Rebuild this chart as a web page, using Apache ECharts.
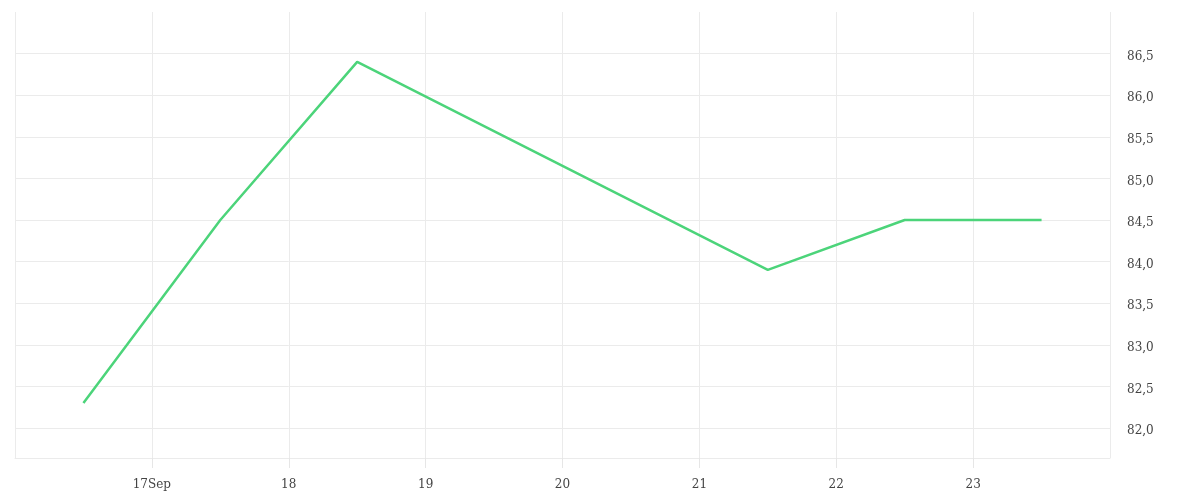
<!DOCTYPE html>
<html><head><meta charset="utf-8">
<script src="https://cdn.jsdelivr.net/npm/echarts@6/dist/echarts.min.js"></script>
<style>html,body{margin:0;padding:0;background:#fff}#c{width:1200px;height:500px}</style>
</head><body><div id="c"></div>
<script>
// Dates (UTC, noon of each day, Sep 2024) and values
const pointDates = ['2024-09-16T12:00:00Z','2024-09-17T12:00:00Z','2024-09-18T12:00:00Z','2024-09-21T12:00:00Z','2024-09-22T12:00:00Z','2024-09-23T12:00:00Z'];
const pointValues = [82.3, 84.5, 86.4, 83.9, 84.5, 84.5];
const xStart = '2024-09-16T00:00:00Z';
const xEnd = '2024-09-24T00:00:00Z';
const yMin = 81.64, yMax = 87.0;

const DAY = 86400000;
const data = pointDates.map((d, i) => [Date.parse(d), pointValues[i]]);
const chart = echarts.init(document.getElementById('c'));
const font = 'DejaVu Serif';
chart.setOption({
  animation: false,
  grid: {left: 15, right: 90, top: 12, bottom: 42},
  xAxis: {
    type: 'value', min: Date.parse(xStart), max: Date.parse(xEnd), interval: DAY,
    axisLine: {show: true, lineStyle: {color: '#ebebeb'}},
    axisTick: {show: true, inside: false, length: 10, lineStyle: {color: '#e6e6e6', width: 1}},
    splitLine: {show: true, lineStyle: {color: '#ebebeb', width: 1}},
    axisLabel: {
      showMinLabel: false, showMaxLabel: false, margin: 21,
      color: '#444', fontFamily: font, fontSize: 12,
      formatter: v => { const d = new Date(v); const day = d.getUTCDate(); return day === 17 ? day + 'Sep' : String(day); }
    }
  },
  yAxis: {
    type: 'value', position: 'right', min: yMin, max: yMax, splitNumber: 10, scale: true,
    axisLine: {show: false},
    axisTick: {show: false},
    splitLine: {show: true, showMaxLine: false, lineStyle: {color: '#ebebeb', width: 1}},
    axisLabel: {
      showMinLabel: false, showMaxLabel: false, margin: 17,
      verticalAlign: 'top', lineHeight: 6,
      color: '#444', fontFamily: font, fontSize: 12,
      formatter: v => v.toFixed(1).replace('.', ',')
    }
  },
  series: [{
    type: 'line', data: data, showSymbol: false, symbol: 'none',
    lineStyle: {color: '#4cd47a', width: 2.5}
  }]
});
</script></body></html>
